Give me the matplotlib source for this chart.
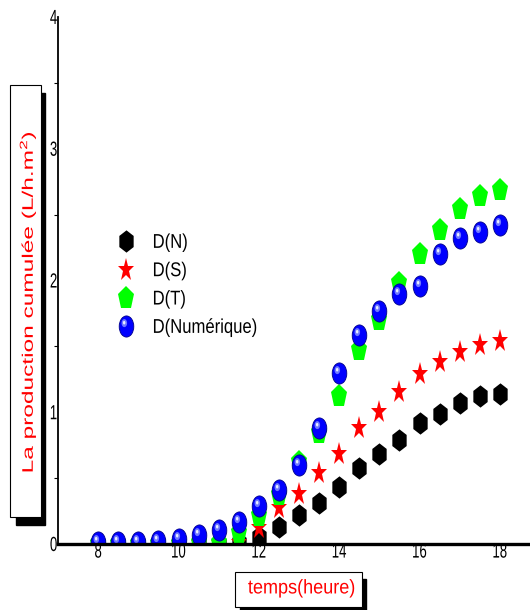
import numpy as np
import matplotlib
matplotlib.use('Agg')
import matplotlib.pyplot as plt
from matplotlib import patheffects
from matplotlib.markers import MarkerStyle
from matplotlib.path import Path
from matplotlib.transforms import Affine2D
from matplotlib.patches import Rectangle
from matplotlib.legend_handler import HandlerTuple

plt.rcParams['font.family'] = ['Liberation Sans', 'DejaVu Sans']
plt.rcParams['mathtext.default'] = 'regular'

# data
temps = [8, 8.5, 9, 9.5, 10, 10.5, 11, 11.5, 12, 12.5, 13, 13.5, 14, 14.5, 15, 15.5, 16, 16.5, 17, 17.5, 18]
d_n = [0, 0, 0, 0, 0, 0, 0, 0.01, 0.05, 0.13, 0.22, 0.31, 0.43, 0.58, 0.68, 0.79, 0.92, 0.99, 1.07, 1.12, 1.14]
d_s = [0, 0, 0, 0, 0, 0, 0, 0.01, 0.12, 0.27, 0.38, 0.54, 0.68, 0.88, 1.00, 1.15, 1.29, 1.38, 1.46, 1.51, 1.54]
d_t = [0, 0, 0, 0, 0, 0.01, 0.01, 0.08, 0.21, 0.37, 0.62, 0.84, 1.12, 1.47, 1.70, 1.98, 2.20, 2.38, 2.54, 2.64, 2.69]
d_num = [0.015, 0.015, 0.015, 0.02, 0.04, 0.07, 0.11, 0.17, 0.29, 0.41, 0.60, 0.88, 1.30, 1.59, 1.77, 1.90, 1.96, 2.20, 2.32, 2.37, 2.42]
labels = ['D(N)', 'D(S)', 'D(T)', 'D(Numérique)']
xticks = [8, 10, 12, 14, 16, 18]
yticks = [0, 1, 2, 3, 4]

W, H = 530, 610


class StretchY(patheffects.AbstractPathEffect):
    # the original picture is squeezed sideways, so the glyphs are stretched up
    def __init__(self, k):
        super().__init__()
        self.k = k

    def draw_path(self, renderer, gc, tpath, affine, rgbFace=None):
        ext = affine.transform_path(tpath).get_extents()
        cx = (ext.x0 + ext.x1) / 2
        cy = (ext.y0 + ext.y1) / 2
        aff = affine + Affine2D().translate(-cx, -cy).scale(1, self.k).translate(cx, cy)
        renderer.draw_path(gc, tpath, aff, rgbFace)


def tall(m, k):
    return MarkerStyle(m, transform=Affine2D().scale(1, k))


def spot(cx, cy, r, k):
    # off-centre disc for the shine on the blue balls
    t = np.linspace(0, 2 * np.pi, 33)
    verts = np.vstack([[[-1, -1], [1, 1]], np.column_stack([cx + r * np.cos(t), cy + r * np.sin(t)])])
    codes = [Path.MOVETO, Path.MOVETO, Path.MOVETO] + [Path.LINETO] * 31 + [Path.CLOSEPOLY]
    return MarkerStyle(Path(verts, codes), transform=Affine2D().scale(1, k))


fig = plt.figure(figsize=(W / 100, H / 100), dpi=100)
ax = fig.add_axes([58 / W, 66 / H, 472 / W, 527 / H])

kw = dict(ls='none', mew=0, zorder=2.2)
h1, = ax.plot(temps, d_n, marker=tall('h', 1.35), ms=11.9, color='black', label=labels[0], **kw)
h2, = ax.plot(temps, d_s, marker=tall('*', 1.4), ms=12.5, color='#ff0000', label=labels[1], **kw)
h3, = ax.plot(temps, d_t, marker=tall('p', 1.45), ms=12.2, color='#00ff00', label=labels[2], **kw)
h4, = ax.plot(temps, d_num, marker=tall('o', 1.45), ms=10.5, color='#0000ff', mec='#00008b',
              ls='none', mew=0.6, zorder=2.2)
h5, = ax.plot(temps, d_num, marker=spot(-0.3, 0.32, 0.38, 1.45), ms=10.5, color='#6f78ff', **kw)
h6, = ax.plot(temps, d_num, marker=spot(-0.32, 0.36, 0.17, 1.45), ms=10.5, color='#e8ecff', **kw)

ax.set_xlim(7, 18.75)
ax.set_ylim(0, 4)
ax.set_xticks(xticks)
ax.set_yticks(yticks)
ax.set_yticks(np.arange(0.5, 4, 1), minor=True)
ax.tick_params(axis='x', length=0, pad=1.5, labelsize=9.5)
ax.tick_params(axis='y', which='major', length=0, pad=0.5, labelsize=9.5)
ax.tick_params(axis='y', which='minor', length=3, width=0.8, direction='out')
for s in ['top', 'right']:
    ax.spines[s].set_visible(False)
ax.spines['left'].set_linewidth(1.3)
ax.spines['bottom'].set_linewidth(2.4)
for lab in ax.get_xticklabels() + ax.get_yticklabels():
    lab.set_path_effects([StretchY(1.55)])

leg = ax.legend([h1, h2, h3, (h4, h5, h6)], labels, handler_map={tuple: HandlerTuple(ndivide=1)},
                loc='upper left', bbox_to_anchor=(117.6 / W, 1 - 235 / H), bbox_transform=fig.transFigure,
                frameon=False, borderpad=0, borderaxespad=0, handlelength=1.0, handletextpad=1.1,
                labelspacing=0.8, fontsize=12, numpoints=1)
for t in leg.get_texts():
    t.set_path_effects([StretchY(1.2)])


def box(x0, y0, x1, y1, **k):
    # pixel coordinates from the top left corner
    fig.patches.append(Rectangle((x0 / W, 1 - y1 / H), (x1 - x0) / W, (y1 - y0) / H,
                                 transform=fig.transFigure, **k))


# y label in a box with a drop shadow
box(16, 93, 45, 525, color='black')
box(10, 85, 40.5, 517, facecolor='white', edgecolor='black', lw=0.8)
fig.text(28 / W, 1 - 302 / H, 'La production cumulée (L/h.m$^2$)', rotation=90, ha='center', va='center',
         color='#ff0000', fontsize=11, path_effects=[StretchY(1.6)])

# x label
box(240, 579, 366, 612, color='black')
box(235, 572, 362, 607, facecolor='white', edgecolor='black', lw=0.8)
fig.text(301.5 / W, 1 - 593 / H, 'temps(heure)', ha='center', va='baseline', color='#ff0000',
         fontsize=13, path_effects=[StretchY(1.1)])

fig.savefig('out.png', dpi=100)
